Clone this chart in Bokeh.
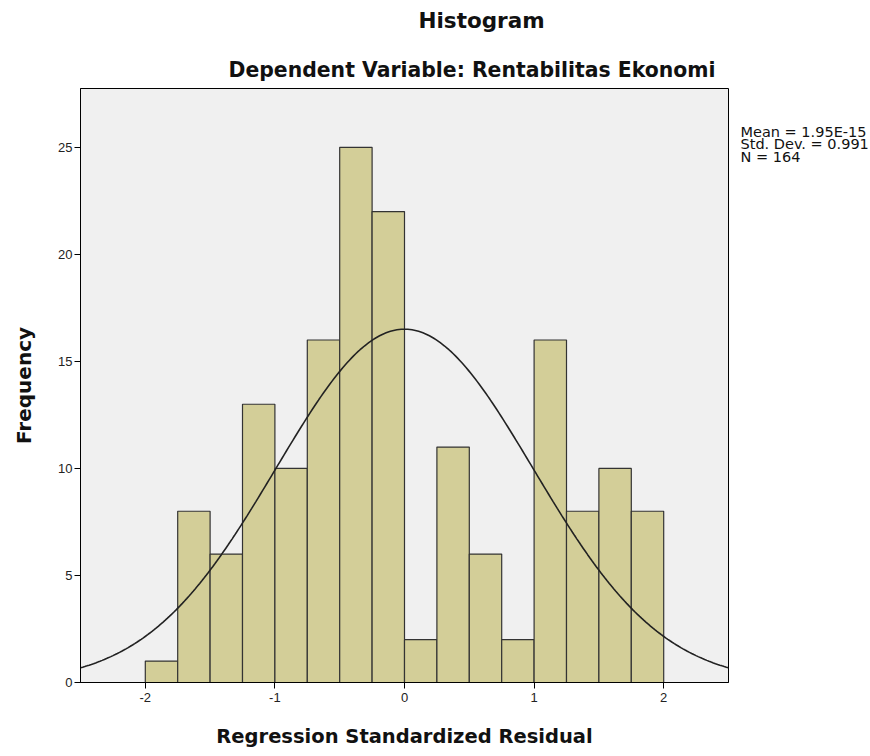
import numpy as np
from bokeh.plotting import figure
from bokeh.models import Range1d, FixedTicker
from bokeh.layouts import row, column
from bokeh.core.properties import value
from bokeh.embed import file_html
from bokeh.resources import INLINE

# ---- data ----
bin_left = [-2.0, -1.75, -1.5, -1.25, -1.0, -0.75, -0.5, -0.25,
            0.0, 0.25, 0.5, 0.75, 1.0, 1.25, 1.5, 1.75]
bin_width = 0.25
counts = [1, 8, 6, 13, 10, 16, 25, 22, 2, 11, 6, 2, 16, 8, 10, 8]
mean_val = 1.95e-15
std_val = 0.991
n_val = 164
x_ticks = [-2, -1, 0, 1, 2]
y_ticks = [0, 5, 10, 15, 20, 25]
stats_lines = ["Mean = 1.95E-15", "Std. Dev. = 0.991", "N = 164"]
title_lines = ["Histogram", "Dependent Variable: Rentabilitas Ekonomi"]
xlabel = "Regression Standardized Residual"
ylabel = "Frequency"

FONT = "Liberation Sans"
BFONT = "DejaVu Sans"
TOP = 86
H = 754 - TOP


def blank(width, height, xr, yr):
    f = figure(width=width, height=height, output_backend="svg", toolbar_location=None,
               x_range=xr, y_range=yr, min_border_left=0, min_border_right=0,
               min_border_top=0, min_border_bottom=0)
    f.title = None
    f.axis.visible = False
    f.grid.visible = False
    f.outline_line_color = None
    f.background_fill_color = "white"
    f.border_fill_color = "white"
    return f


# ---- title panel (pixel coordinates) ----
t = blank(868, TOP, Range1d(0, 868), Range1d(TOP, 0))
t.text(x=[418, 228], y=[19.5, 69.5], text=title_lines, text_font=value(BFONT),
       text_font_size=["21.5px", "20.4px"], text_font_style="bold",
       text_align="left", text_baseline="middle", text_color="#111111")

# ---- main plot ----
p = figure(width=740, height=H, output_backend="svg", toolbar_location=None,
           x_range=Range1d(-2.5, 2.5), y_range=Range1d(0, 27.75),
           min_border_left=80, min_border_right=12, min_border_top=2,
           min_border_bottom=72)
p.title = None
p.background_fill_color = "#F0F0F0"
p.border_fill_color = "white"
p.outline_line_color = "black"
p.outline_line_width = 1
p.xgrid.visible = False
p.ygrid.visible = False

right = [l + bin_width for l in bin_left]
p.quad(left=bin_left, right=right, bottom=0, top=counts,
       fill_color="#D3CE98", line_color="#333333", line_width=1.2)

xs = np.linspace(-2.5, 2.5, 300)
ys = n_val * bin_width * np.exp(-0.5 * ((xs - mean_val) / std_val) ** 2) / (std_val * np.sqrt(2 * np.pi))
p.line(xs, ys, line_color="#222222", line_width=1.6)

for ax, ticks in ((p.xaxis, x_ticks), (p.yaxis, y_ticks)):
    ax.ticker = FixedTicker(ticks=ticks)
    ax.minor_tick_line_color = None
    ax.major_tick_in = 0
    ax.major_tick_out = 6
    ax.axis_line_color = "black"
    ax.major_tick_line_color = "black"
    ax.major_label_text_font = FONT
    ax.major_label_text_font_size = "13px"
    ax.major_label_text_color = "#222222"
p.xaxis.major_label_overrides = {t_: str(t_) for t_ in x_ticks}
p.yaxis.major_label_standoff = 2
p.xaxis.major_label_standoff = 4

p.xaxis.axis_label = xlabel
p.xaxis.axis_label_text_font = BFONT
p.xaxis.axis_label_text_font_size = "19.5px"
p.xaxis.axis_label_text_font_style = "bold"
p.xaxis.axis_label_text_color = "#111111"
p.xaxis.axis_label_standoff = 20

p.yaxis.axis_label = ylabel
p.yaxis.axis_label_text_font = BFONT
p.yaxis.axis_label_text_font_size = "20px"
p.yaxis.axis_label_text_font_style = "bold"
p.yaxis.axis_label_text_color = "#111111"
p.yaxis.axis_label_standoff = 19

# ---- stats panel (frame aligned with main plot frame: page y 88..682) ----
s = blank(128, H, Range1d(0, 128), Range1d(682, 88))
s.text(x=[0, 0, 0], y=[131, 143.7, 156.5], text=stats_lines, text_font=value(BFONT),
       text_font_size="14.5px", text_align="left", text_baseline="middle",
       text_color="#111111")

layout = column(t, row(p, s, spacing=0), spacing=0)
open("out.html", "w").write(file_html(layout, INLINE))
